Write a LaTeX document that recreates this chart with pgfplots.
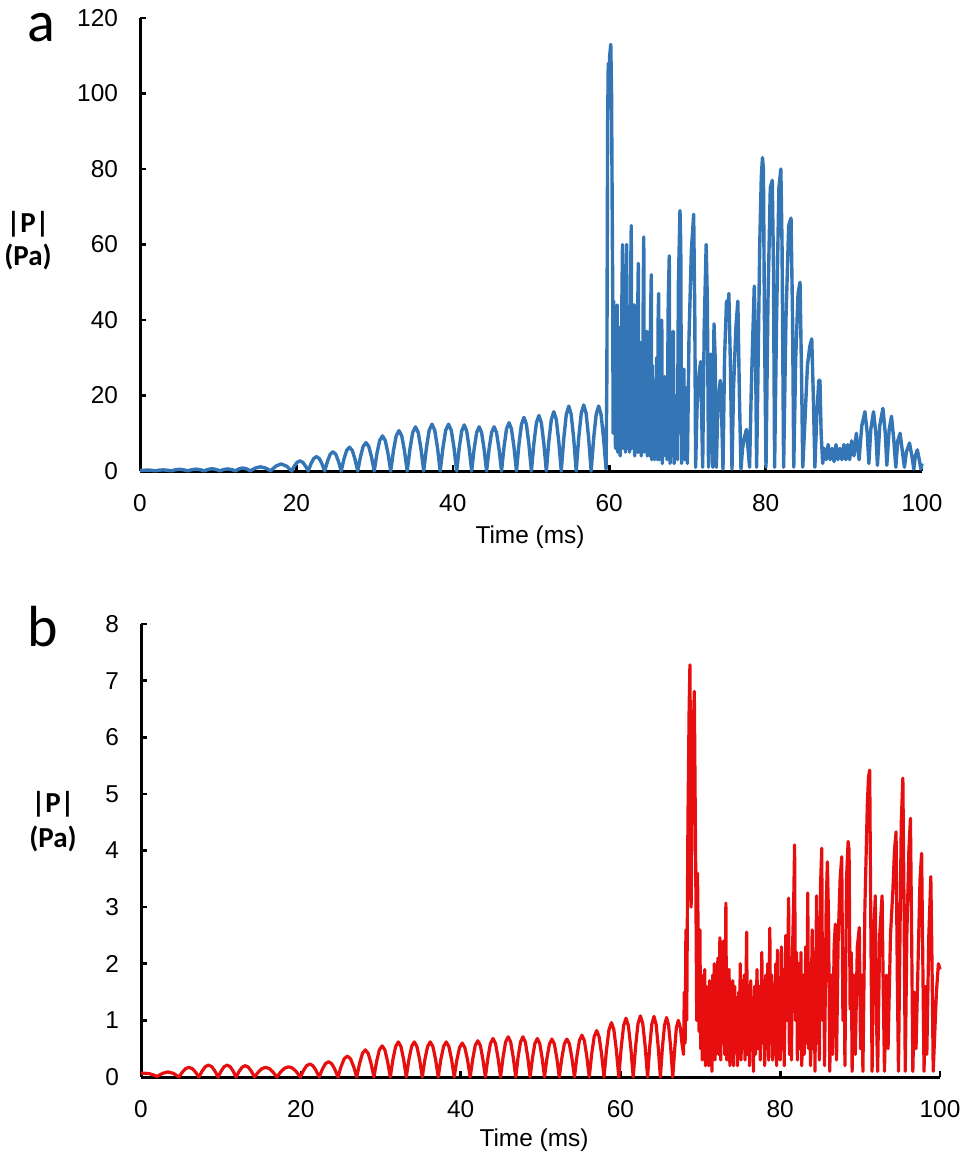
\documentclass[border=0pt]{standalone}
\usepackage{pgfplots}
\pgfplotsset{compat=1.18}
\usepackage{fontspec}
\setmainfont{Liberation Sans}
\newfontfamily\calib{Carlito}
\definecolor{ablue}{RGB}{52,117,182}
\definecolor{bred}{RGB}{230,14,14}
\pgfplotsset{
  panel/.style={
    scale only axis,
    axis lines=left,
    axis line style={-, line width=1.5pt, black},
    tick align=inside,
    major tick length=3pt,
    every tick/.style={black, line width=1.3pt},
    xmin=0, xmax=100,
    xtick={0,20,...,100},
    /pgf/number format/assume math mode=true,
    tick label style={font=\fontsize{12.2}{14}\selectfont},
    yticklabel style={xshift=-7.5pt},
    xticklabel style={yshift=-8pt},
    clip=false,
  }
}
\begin{document}
\begin{tikzpicture}
\useasboundingbox (0,0) rectangle (484pt,-577pt);
% ---------------- panel a ----------------
\begin{axis}[panel, at={(70pt,-235.5pt)}, anchor=south west,
  width=391pt, height=226.5pt, ymin=0, ymax=120, ytick={0,20,...,120}]
\addplot[color=ablue, line width=1.7pt, line join=round] coordinates {
(0,0.1)(0.475,0.2)(0.95,0.25)(1.43,0.2)
(1.9,0.05)(2.43,0.21)(2.95,0.3)(3.48,0.21)
(4.0,0.05)(4.53,0.32)(5.05,0.45)(5.58,0.32)
(6.1,0.05)(6.63,0.35)(7.15,0.5)(7.68,0.35)
(8.2,0.05)(8.7,0.42)(9.2,0.6)(9.7,0.42)
(10.2,0.05)(10.7,0.39)(11.2,0.55)(11.7,0.39)
(12.2,0.05)(12.68,0.56)(13.15,0.8)(13.63,0.56)
(14.1,0.05)(14.75,0.78)(15.4,1.1)(16.05,0.78)
(16.7,0.05)(17.38,1.3)(18.05,1.85)(18.73,1.3)
(19.4,0)(19.75,1.33)(20.1,2.31)(20.46,2.65)(20.81,2.31)(21.16,1.33)
(21.51,0)(21.86,1.9)(22.21,3.31)(22.57,3.8)(22.92,3.31)(23.27,1.9)
(23.62,0)(23.97,2.55)(24.32,4.44)(24.68,5.1)(25.03,4.44)(25.38,2.55)
(25.73,0)(26.08,3.15)(26.43,5.48)(26.79,6.3)(27.14,5.48)(27.49,3.15)
(27.84,0)(28.19,3.75)(28.54,6.53)(28.9,7.5)(29.25,6.53)(29.6,3.75)
(29.95,0)(30.3,4.65)(30.65,8.09)(31.01,9.3)(31.36,8.09)(31.71,4.65)
(32.06,0)(32.41,5.35)(32.76,9.31)(33.12,10.7)(33.47,9.31)(33.82,5.35)
(34.17,0)(34.52,5.85)(34.87,10.18)(35.23,11.7)(35.58,10.18)(35.93,5.85)
(36.28,0)(36.63,6.2)(36.98,10.79)(37.34,12.4)(37.69,10.79)(38.04,6.2)
(38.39,0)(38.74,6.2)(39.09,10.79)(39.45,12.4)(39.8,10.79)(40.15,6.2)
(40.5,0)(40.82,6.1)(41.14,10.61)(41.46,12.2)(41.77,10.61)(42.09,6.1)
(42.41,0)(42.73,5.85)(43.05,10.18)(43.37,11.7)(43.68,10.18)(44.0,5.85)
(44.32,0)(44.64,5.85)(44.96,10.18)(45.28,11.7)(45.59,10.18)(45.91,5.85)
(46.23,0)(46.55,6.4)(46.87,11.14)(47.19,12.8)(47.5,11.14)(47.82,6.4)
(48.14,0)(48.46,7.1)(48.78,12.35)(49.1,14.2)(49.41,12.35)(49.73,7.1)
(50.05,0)(50.37,7.35)(50.69,12.79)(51.01,14.7)(51.32,12.79)(51.64,7.35)
(51.96,0)(52.28,7.85)(52.6,13.66)(52.92,15.7)(53.23,13.66)(53.55,7.85)
(53.87,0)(54.19,8.6)(54.51,14.96)(54.83,17.2)(55.14,14.96)(55.46,8.6)
(55.78,0)(56.1,8.75)(56.42,15.23)(56.74,17.5)(57.05,15.23)(57.37,8.75)
(57.69,0)(58.01,8.6)(58.33,14.96)(58.65,17.2)(58.96,14.96)(59.28,8.6)
(59.60,0.5)(59.70,25)(59.80,92)(59.88,108)(59.96,96)(60.06,110)(60.20,113)(60.30,100)
(60.38,70)(60.45,47)(60.50,10)(60.58,45)(60.65,15)(60.72,40)(60.80,6)(60.88,35)
(60.95,10)(61.02,44)(61.10,5)(61.18,30)(61.25,12)(61.32,38)(61.40,4)(61.48,28)
(61.55,10)(61.62,45)(61.70,60)(61.76,6)(61.84,34)(61.92,9)(62.00,42)(62.08,5)
(62.15,50)(62.22,60)(62.28,6)(62.36,30)(62.44,8)(62.52,40)(62.60,5)(62.68,35)
(62.76,55)(62.82,65)(62.88,6)(62.96,32)(63.04,8)(63.12,38)(63.20,44)(63.26,4)
(63.34,28)(63.42,10)(63.50,36)(63.58,5)(63.66,45)(63.72,55)(63.78,5)(63.86,30)
(63.94,9)(64.02,34)(64.10,4)(64.18,26)(64.26,10)(64.36,50)(64.42,62)(64.48,5)
(64.56,28)(64.64,8)(64.72,30)(64.80,37)(64.86,4)(64.94,25)(65.02,9)(65.10,30)
(65.18,4)(65.28,40)(65.38,52)(65.44,3)(65.52,28)(65.60,6)(65.70,24)(65.78,3)
(65.88,22)(65.96,4)(66.06,30)(66.16,3)(66.26,40)(66.32,47)(66.40,3)(66.50,22)
(66.58,5)(66.66,35)(66.72,40)(66.80,2)(66.90,18)(67.00,5)(67.10,25)(67.20,4)
(67.30,20)(67.40,3)(67.55,45)(67.68,57)(67.78,2)(67.90,25)(68.00,4)(68.12,33)
(68.20,37)(68.30,2)(68.42,20)(68.52,4)(68.62,18)(68.72,3)(68.85,50)(69.05,69)
(69.15,60)(69.25,2)(69.40,20)(69.55,27)(69.65,3)(69.80,22)(69.90,15)(70.00,2)
(70.20,35)(70.50,58)(70.80,68)(70.95,40)(71.05,1)(71.25,18)(71.50,26)(71.70,29)
(71.85,12)(71.95,1)(72.15,38)(72.40,60)(72.55,45)(72.70,1)(72.85,25)(73.00,31)
(73.10,12)(73.25,1)(73.40,39)(73.55,30)(73.70,1)(73.90,18)(74.20,24)(74.40,13)
(74.55,0.5)(74.75,30)(75.00,45)(75.15,40)(75.30,47)(75.50,28)(75.70,0.5)(75.90,22)
(76.20,38)(76.45,45)(76.65,20)(76.85,0.5)(77.05,6)(77.30,9)(77.55,11)(77.75,6)
(77.95,1)(78.15,20)(78.35,35)(78.55,49)(78.70,35)(78.85,1)(79.05,30)(79.25,60)
(79.45,78)(79.60,83)(79.72,80)(79.85,40)(80.05,1)(80.30,45)(80.60,75)(80.85,77)
(81.00,55)(81.15,1)(81.40,40)(81.70,75)(81.95,80)(82.10,60)(82.30,1)(82.60,40)
(82.95,65)(83.25,67)(83.45,40)(83.60,1)(83.85,30)(84.15,47)(84.40,50)(84.60,25)
(84.75,1)(85.00,12)(85.35,28)(85.65,33)(85.90,35)(86.10,20)(86.30,1)(86.55,15)
(86.80,24)(86.95,24)(87.10,10)(87.30,2)(87.50,6)(87.75,3)(88.00,7)(88.25,3)
(88.50,6)(88.75,2.5)(89.00,7)(89.25,3)(89.50,6)(89.75,3)(90.00,7)(90.25,3)
(90.50,7)(90.75,3)(91.00,8)(91.30,4)(91.60,10)(91.95,3)(92.30,12)(92.70,15.7)
(93.00,10)(93.20,2)(93.45,11)(93.80,15.7)(94.10,10)(94.30,1.5)(94.60,12)(95.00,16.6)
(95.30,10)(95.50,1.5)(95.80,11)(96.10,14.5)(96.40,8)(96.65,1)(96.90,8)(97.20,10)
(97.50,5)(97.75,1)(98.00,5)(98.40,7.4)(98.70,4)(98.95,0.5)(99.15,4)(99.40,5.6)
(99.65,3)(99.85,0.5)(100.00,2)
};
\end{axis}
% ---------------- panel b ----------------
\begin{axis}[panel, at={(70.5pt,-538.5pt)}, anchor=south west,
  width=399.5pt, height=226.5pt, ymin=0, ymax=8, ytick={0,1,...,8}]
\addplot[color=bred, line width=1.6pt, line join=round] coordinates {
(0,0.07)(0.5,0.065)(1.0,0.06)(1.5,0.04)
(2.0,0.01)(2.69,0.064)(3.38,0.09)(4.06,0.064)
(4.75,0)(5.17,0.085)(5.58,0.148)(6.0,0.17)(6.42,0.148)(6.83,0.085)
(7.25,0)(7.65,0.105)(8.05,0.183)(8.45,0.21)(8.85,0.183)(9.25,0.105)
(9.65,0)(10.03,0.105)(10.4,0.183)(10.78,0.21)(11.15,0.183)(11.53,0.105)
(11.9,0)(12.28,0.1)(12.67,0.174)(13.05,0.2)(13.43,0.174)(13.82,0.1)
(14.2,0)(14.67,0.085)(15.13,0.148)(15.6,0.17)(16.07,0.148)(16.53,0.085)
(17.0,0)(17.49,0.09)(17.98,0.157)(18.48,0.18)(18.97,0.157)(19.46,0.09)
(19.95,0)(20.34,0.115)(20.73,0.2)(21.13,0.23)(21.52,0.2)(21.91,0.115)
(22.3,0)(22.69,0.135)(23.08,0.235)(23.48,0.27)(23.87,0.235)(24.26,0.135)
(24.65,0)(25.04,0.185)(25.43,0.322)(25.83,0.37)(26.22,0.322)(26.61,0.185)
(27.0,0)(27.36,0.24)(27.72,0.418)(28.08,0.48)(28.43,0.418)(28.79,0.24)
(29.15,0)(29.49,0.275)(29.83,0.479)(30.18,0.55)(30.52,0.479)(30.86,0.275)
(31.2,0)(31.53,0.31)(31.87,0.54)(32.2,0.62)(32.53,0.54)(32.87,0.31)
(33.2,0)(33.53,0.31)(33.87,0.54)(34.2,0.62)(34.53,0.54)(34.87,0.31)
(35.2,0)(35.53,0.31)(35.87,0.54)(36.2,0.62)(36.53,0.54)(36.87,0.31)
(37.2,0)(37.53,0.31)(37.87,0.54)(38.2,0.62)(38.53,0.54)(38.87,0.31)
(39.2,0)(39.53,0.3)(39.87,0.52)(40.2,0.6)(40.53,0.52)(40.87,0.3)
(41.2,0)(41.52,0.32)(41.83,0.557)(42.15,0.64)(42.47,0.557)(42.78,0.32)
(43.1,0)(43.42,0.34)(43.73,0.592)(44.05,0.68)(44.37,0.592)(44.68,0.34)
(45.0,0)(45.32,0.355)(45.63,0.618)(45.95,0.71)(46.27,0.618)(46.58,0.355)
(46.9,0)(47.2,0.355)(47.5,0.618)(47.8,0.71)(48.1,0.618)(48.4,0.355)
(48.7,0)(49.0,0.34)(49.3,0.592)(49.6,0.68)(49.9,0.592)(50.2,0.34)
(50.5,0)(50.81,0.335)(51.12,0.583)(51.43,0.67)(51.73,0.583)(52.04,0.335)
(52.35,0)(52.67,0.335)(52.98,0.583)(53.3,0.67)(53.62,0.583)(53.93,0.335)
(54.25,0)(54.56,0.37)(54.87,0.644)(55.18,0.74)(55.48,0.644)(55.79,0.37)
(56.1,0)(56.41,0.41)(56.72,0.713)(57.03,0.82)(57.33,0.713)(57.64,0.41)
(57.95,0)(58.26,0.48)(58.57,0.835)(58.88,0.96)(59.18,0.835)(59.49,0.48)
(59.8,0)(60.1,0.52)(60.4,0.905)(60.7,1.04)(61.0,0.905)(61.3,0.52)
(61.6,0)(61.9,0.54)(62.2,0.94)(62.5,1.08)(62.8,0.94)(63.1,0.54)
(63.4,0)(63.67,0.535)(63.93,0.931)(64.2,1.07)(64.47,0.931)(64.73,0.535)
(65.0,0)(65.26,0.525)(65.52,0.914)(65.78,1.05)(66.03,0.914)(66.29,0.525)
(66.55,0)(66.8,0.5)(67.0,0.87)(67.25,1.0)(67.5,0.87)(67.7,0.6)(67.9,0.4)
(68.00,1.5)(68.10,0.6)(68.20,2.6)(68.30,1.0)(68.45,4.5)(68.60,6.5)(68.70,7.28)(68.78,5.5)
(68.85,3.0)(68.95,4.5)(69.10,6.0)(69.25,6.81)(69.35,5.0)(69.45,3.2)(69.55,1.0)(69.65,3.6)
(69.75,2.2)(69.85,0.8)(69.95,2.6)(70.05,0.5)(70.15,1.8)(70.25,0.3)(70.35,1.7)(70.45,0.5)
(70.55,1.9)(70.65,0.2)(70.75,1.6)(70.85,0.6)(70.95,1.2)(71.05,0.2)(71.15,1.7)(71.25,0.5)
(71.35,1.4)(71.45,0.1)(71.55,1.8)(71.65,0.6)(71.75,2.0)(71.85,0.3)(71.95,1.5)(72.05,0.5)
(72.20,2.1)(72.30,0.4)(72.45,2.46)(72.55,0.3)(72.65,1.8)(72.75,0.6)(72.90,2.4)(73.05,0.4)
(73.20,3.07)(73.30,0.3)(73.40,1.7)(73.50,0.6)(73.60,1.9)(73.70,0.2)(73.80,1.6)(73.90,0.5)
(74.05,1.7)(74.15,0.2)(74.30,1.6)(74.40,0.5)(74.55,1.4)(74.65,0.2)(74.80,1.5)(74.90,0.6)
(75.00,2.0)(75.10,0.3)(75.25,1.7)(75.35,0.5)(75.50,1.8)(75.60,0.3)(75.80,2.56)(75.90,0.4)
(76.05,1.5)(76.15,0.2)(76.30,1.7)(76.40,0.5)(76.55,1.4)(76.65,0.1)(76.80,1.6)(76.90,0.4)
(77.10,1.9)(77.20,0.5)(77.40,1.6)(77.50,0.3)(77.70,2.2)(77.80,0.6)(77.95,1.7)(78.05,0.2)
(78.20,1.8)(78.30,0.5)(78.45,2.0)(78.55,0.3)(78.70,2.63)(78.80,0.6)(78.95,1.8)(79.05,0.3)
(79.20,1.6)(79.30,0.4)(79.45,2.0)(79.55,0.2)(79.65,2.24)(79.75,0.5)(79.90,1.7)(80.00,0.3)
(80.15,2.3)(80.25,0.5)(80.40,1.9)(80.50,0.2)(80.70,2.5)(80.85,1.0)(81.05,3.16)(81.15,0.4)
(81.30,2.0)(81.40,0.3)(81.55,2.3)(81.70,3.2)(81.80,4.1)(81.90,1.0)(82.05,2.2)(82.15,0.3)
(82.35,2.0)(82.45,0.5)(82.60,2.2)(82.70,0.2)(82.90,1.8)(83.00,0.4)(83.20,2.3)(83.30,0.6)
(83.45,3.25)(83.55,0.5)(83.70,2.0)(83.80,0.2)(84.00,2.6)(84.10,0.5)(84.25,2.2)(84.35,0.1)
(84.55,3.2)(84.65,0.6)(84.80,2.5)(84.90,0.3)(85.05,3.4)(85.20,4.04)(85.30,1.0)(85.45,2.0)
(85.55,0.2)(85.75,3.0)(85.90,3.8)(86.05,2.8)(86.20,0.1)(86.40,1.8)(86.55,0.4)(86.75,2.3)
(86.90,2.7)(87.05,0.3)(87.25,2.4)(87.50,3.5)(87.70,3.89)(87.85,1.0)(88.00,2.0)(88.10,0.2)
(88.30,3.5)(88.50,4.16)(88.62,4.0)(88.75,1.2)(88.90,2.2)(89.00,0.1)(89.20,1.8)(89.40,0.4)
(89.65,2.3)(89.90,2.64)(90.05,0.5)(90.20,1.8)(90.35,0.1)(90.60,3.0)(90.90,4.8)(91.05,5.3)
(91.20,5.42)(91.35,2.5)(91.50,0.1)(91.70,2.5)(91.90,3.2)(92.05,1.0)(92.20,0.1)(92.45,2.5)
(92.75,3.2)(92.90,1.5)(93.05,0.1)(93.30,1.8)(93.50,0.5)(93.80,2.5)(94.10,3.3)(94.30,4.0)
(94.50,4.33)(94.65,1.8)(94.80,0.1)(94.95,2.0)(95.15,4.5)(95.35,5.28)(95.50,3.0)(95.65,0.1)
(95.85,2.5)(96.10,4.0)(96.30,4.57)(96.45,2.5)(96.60,0.1)(96.80,1.5)(97.00,0.5)(97.25,2.0)
(97.50,3.5)(97.70,3.95)(97.85,2.0)(98.00,0.1)(98.20,1.6)(98.35,0.4)(98.60,2.5)(98.85,3.54)
(99.00,2.0)(99.15,0.1)(99.35,0.8)(99.55,1.5)(99.80,2.0)(100.00,1.9)
};
\end{axis}
% ---------------- texts ----------------
\node[font=\calib\fontsize{29}{30}\selectfont, inner sep=0pt] at (20.75pt,-14pt) {a};
\node[font=\calib\fontsize{29}{30}\selectfont, inner sep=0pt] at (21.25pt,-313.5pt) {b};
\node[font=\calib\bfseries\fontsize{14.5}{16.5}\selectfont, align=center, inner sep=0pt] at (14pt,-120.5pt) {|P|\\(Pa)};
\node[font=\calib\bfseries\fontsize{14.5}{17.5}\selectfont, align=center, inner sep=0pt] at (26.5pt,-411pt) {|P|\\(Pa)};
\node[font=\fontsize{12.2}{14}\selectfont, inner sep=0pt] at (265pt,-268.5pt) {Time (ms)};
\node[font=\fontsize{12.2}{14}\selectfont, inner sep=0pt] at (267pt,-570pt) {Time (ms)};
\end{tikzpicture}
\end{document}
